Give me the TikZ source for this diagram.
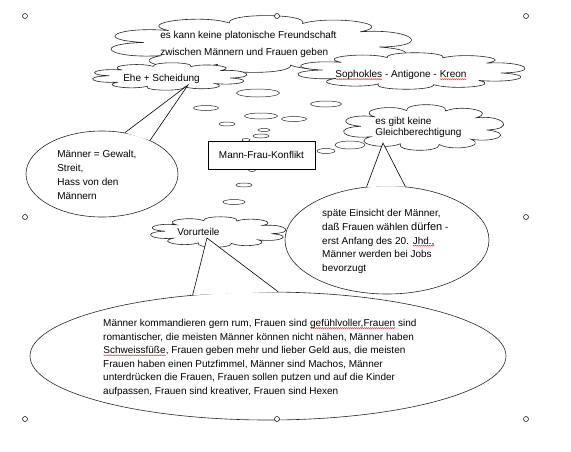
\documentclass[tikz,border=0pt]{standalone}
\usepackage{fontspec}
\setmainfont{Liberation Sans}
\usetikzlibrary{shapes.geometric, decorations.pathmorphing}

% red spell-check squiggle under a word
\newcommand{\typo}[1]{\tikz[baseline=(w.base)]{\node[inner sep=0pt, outer sep=0pt] (w) {#1};
  \draw[red, line width=0.4pt, decorate, decoration={zigzag, amplitude=0.5pt, segment length=2pt}]
    ([yshift=-1.6pt]w.base west) -- ([yshift=-1.6pt]w.base east);}}

% thought cloud: name, centre, half width, half height
% (a round cloud stretched to size, so the puffs stretch with it)
\newcommand{\puffcloud}[4]{%
  \coordinate (#1) at #2;
  \begin{scope}[shift={#2}, xscale=#3, yscale=#4]
    \filldraw[thoughtline] (8:0.78)
      \foreach \a/\b in {8/42, 42/76, 76/112, 112/148, 148/184, 184/218, 218/254, 254/290, 290/326, 326/368}
        { .. controls ({\a+4}:1.14) and ({\b-4}:1.14) .. (\b:0.78) } -- cycle;
  \end{scope}}

\begin{document}
\begin{tikzpicture}[x=1pt, y=-1pt, font=\fontsize{10}{13.6}\selectfont,
    line width=0.6pt,
    thoughtline/.style={draw=black!85, fill=white, line width=0.6pt},
    bubble/.style={ellipse, draw=black!85, fill=white, inner sep=0pt},
    trail/.style={draw=black!85, fill=white, line width=0.5pt},
    grip/.style={draw=black, fill=white, line width=0.5pt},
    txt/.style={anchor=base west, align=left, inner sep=0pt},
  ]
  \useasboundingbox (0,0) rectangle (571,451);

  % Callout ellipses (tails are added after the clouds).
  \node[bubble, minimum width=152pt, minimum height=86pt] (maennerBubble) at (102,174) {};
  \node[bubble, minimum width=204pt, minimum height=108pt] (einsichtBubble) at (387,240) {};
  \node[bubble, minimum width=476pt, minimum height=128pt] (vorurteilBubble) at (268,356) {};

  % Thought trail of small bubbles round the centre box.
  \foreach \cx/\cy/\rx/\ry in {258/93/21.5/4, 206/108/12.5/2.5, 326/104/15.5/3,
      261/116/16.5/3, 294/119/12.5/2.5, 227/124/8/2, 264/130/6/1.5, 261/136/8/2,
      246/140/4/1.5, 350/145/15/4, 326/151/9/2.5, 252/170/3.5/1.5, 244/185/8/2,
      234/202/11/2.5}
    \draw[trail] (\cx,\cy) ellipse [x radius=\rx pt, y radius=\ry pt];

  % Clouds: the big one first, the others lie over it.
  \puffcloud{platonCloud}{(262,44)}{152}{28}
  \puffcloud{eheCloud}{(170,76.5)}{78}{13.5}
  \puffcloud{antigoneCloud}{(412,71)}{115}{18}
  \puffcloud{gleichCloud}{(424,127.5)}{81}{22.5}
  \puffcloud{vorurteilCloud}{(218.5,232)}{68.5}{15}

  % Callout tails, ellipse -> cloud.
  \coordinate (eheTip) at (188,85);
  \coordinate (gleichTip) at (383,143);
  \coordinate (vorurteilTip) at (207,238);
  \fill[white] (maennerBubble.61) -- (eheTip) -- (maennerBubble.35) -- cycle;
  \draw (maennerBubble.61) -- (eheTip) -- (maennerBubble.35);
  \fill[white] (einsichtBubble.111) -- (gleichTip) -- (einsichtBubble.71) -- cycle;
  \draw (einsichtBubble.111) -- (gleichTip) -- (einsichtBubble.71);
  \fill[white] (vorurteilBubble.141) -- (vorurteilTip) -- (vorurteilBubble.81) -- cycle;
  \draw (vorurteilBubble.141) -- (vorurteilTip) -- (vorurteilBubble.81);

  % Texts (a node of several lines sits on the baseline of its last line).
  \node[txt, font=\fontsize{10}{17}\selectfont] (platonText) at (160,55.6)
    {es kann keine platonische Freundschaft\\zwischen Männern und Frauen geben};
  \node[txt] (eheText) at (123,81.5) {Ehe + Scheidung};
  \node[txt] (antigoneText) at (335,77.5) {\typo{Sophokles} - Antigone - \typo{Kreon}};
  \node[txt, font=\fontsize{10}{11}\selectfont] (gleichText) at (375,135.5)
    {es gibt keine\\Gleichberechtigung};
  \node[txt, font=\fontsize{10}{14}\selectfont] (maennerText) at (57,199.5)
    {Männer = Gewalt,\\Streit,\\Hass von den\\Männern};
  \node[txt, font=\fontsize{10}{13.8}\selectfont] (einsichtText) at (322,271.7)
    {späte Einsicht der Männer,\\daß Frauen wählen {\fontsize{11}{13.8}\selectfont dürfen} -\\
     erst Anfang des 20. \typo{Jhd.,}\\Männer werden bei Jobs\\bevorzugt};
  \node[txt] (vorurteilText) at (177,235.5) {Vorurteile};
  \node[txt] (klischeeText) at (103,394.5)
    {Männer kommandieren gern rum, Frauen sind \typo{gefühlvoller,Frauen} sind\\
     romantischer, die meisten Männer können nicht nähen, Männer haben\\
     \typo{Schweissfüße}, Frauen geben mehr und lieber Geld aus, die meisten\\
     Frauen haben einen Putzfimmel, Männer sind Machos, Männer\\
     unterdrücken die Frauen, Frauen sollen putzen und auf die Kinder\\
     aufpassen, Frauen sind kreativer, Frauen sind Hexen};

  % Centre box.
  \node[draw=black, fill=white, inner sep=0pt, minimum width=107pt, minimum height=28pt]
    (konflikt) at (261.5,155) {Mann-Frau-Konflikt};

  % Selection handles of the group.
  \foreach \hx/\hy in {25/16, 277/16, 526/16, 25/217, 526/217, 25/419, 277/419, 526/419}
    \draw[grip] (\hx,\hy) circle [radius=2.5pt];
\end{tikzpicture}
\end{document}
